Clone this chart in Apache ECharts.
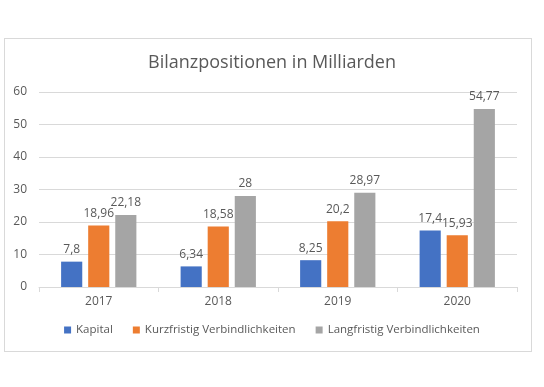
<!DOCTYPE html>
<html><head><meta charset="utf-8">
<script src="https://cdn.jsdelivr.net/npm/echarts@6/dist/echarts.min.js"></script>
<style>html,body{margin:0;padding:0;background:#fff}#c{width:544px;height:387px}
#box{position:absolute;left:4px;top:38px;width:526px;height:312px;border:1px solid #d9d9d9;pointer-events:none}</style>
</head><body><div id="c"></div><div id="box"></div>
<script>
const categories = ['2017', '2018', '2019', '2020'];
const kapital = [7.8, 6.34, 8.25, 17.4];
const kurzfristig = [18.96, 18.58, 20.2, 15.93];
const langfristig = [22.18, 28, 28.97, 54.77];
const seriesNames = ['Kapital', 'Kurzfristig Verbindlichkeiten', 'Langfristig Verbindlichkeiten'];
const colors = ['#4472C4', '#ED7D31', '#A5A5A5'];
const font = 'Open Sans';
const chart = echarts.init(document.getElementById('c'));
const lbl = {show: true, position: 'top', distance: 6, color: '#595959', fontSize: 12, fontFamily: font,
  formatter: p => String(p.value).replace('.', ',')};
chart.setOption({
  animation: false,
  title: {text: 'Bilanzpositionen in Milliarden', left: 'center', top: 49,
    textStyle: {color: '#595959', fontSize: 18, fontWeight: 'normal', fontFamily: font}},
  legend: {bottom: 46, left: 'center', itemWidth: 7, itemHeight: 7, itemGap: 20, icon: 'rect',
    textStyle: {color: '#595959', fontSize: 11.5, fontFamily: font}},
  grid: {left: 39, right: 27, top: 92, bottom: 100},
  xAxis: {type: 'category', data: categories,
    axisLine: {lineStyle: {color: '#d9d9d9'}}, axisTick: {show: true, length: 5, lineStyle: {color: '#d9d9d9'}},
    axisLabel: {color: '#595959', fontSize: 12, fontFamily: font, margin: 9}},
  yAxis: {type: 'value', min: 0, max: 60, interval: 10,
    axisLine: {show: false}, axisTick: {show: false},
    splitLine: {lineStyle: {color: '#d9d9d9'}},
    axisLabel: {color: '#595959', fontSize: 12, fontFamily: font, margin: 12}},
  series: [
    {name: seriesNames[0], type: 'bar', data: kapital, itemStyle: {color: colors[0]}, label: lbl, barGap: '28%', barCategoryGap: '37%'},
    {name: seriesNames[1], type: 'bar', data: kurzfristig, itemStyle: {color: colors[1]}, label: lbl},
    {name: seriesNames[2], type: 'bar', data: langfristig, itemStyle: {color: colors[2]}, label: lbl}
  ]
});
</script></body></html>
